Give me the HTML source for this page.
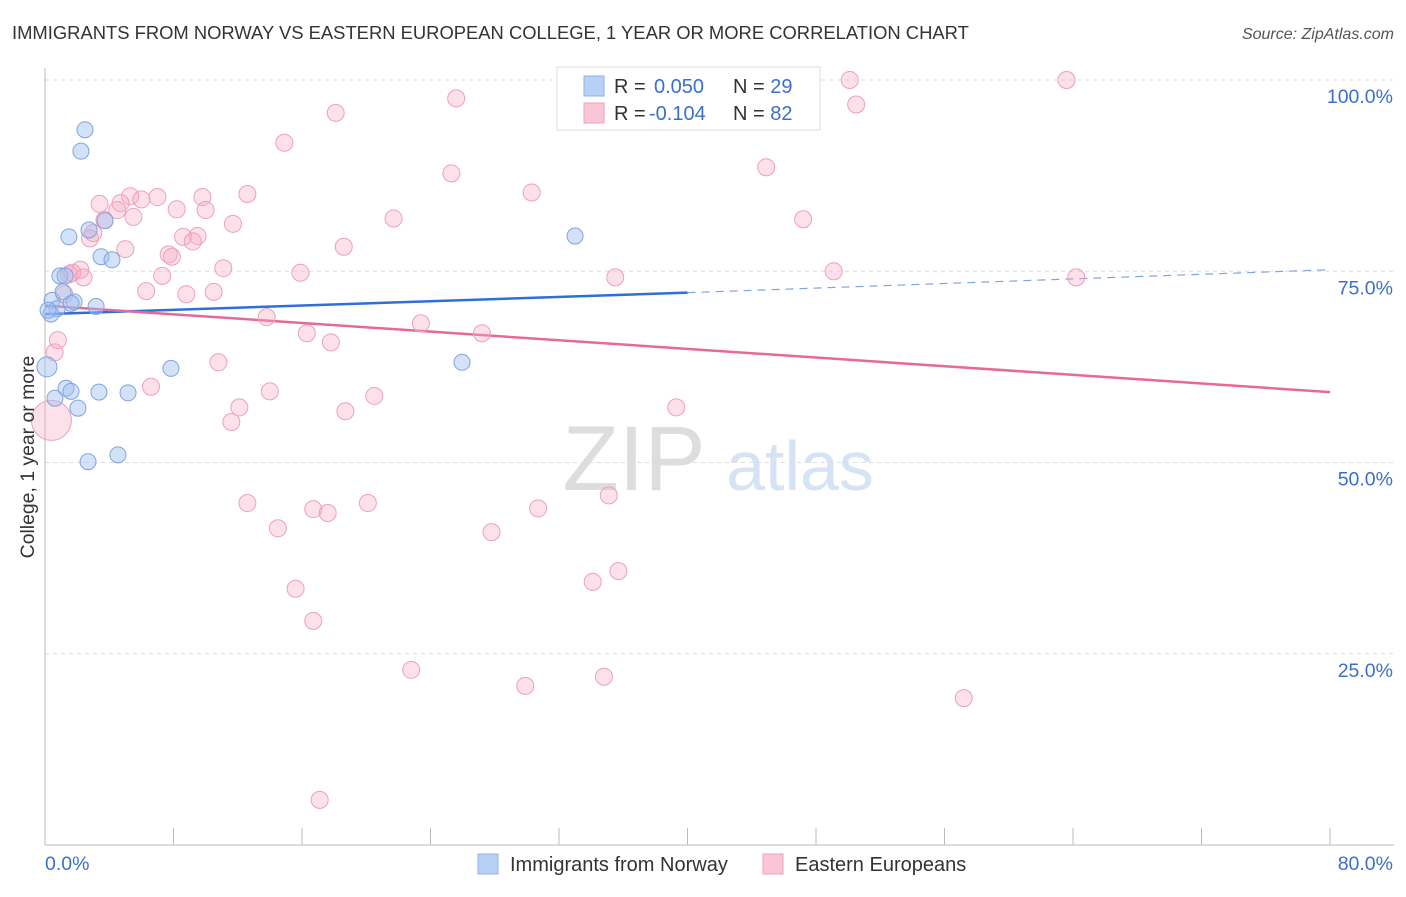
<!DOCTYPE html>
<html><head><meta charset="utf-8">
<style>
body{margin:0;background:#fff;font-family:"Liberation Sans",sans-serif;}
svg text{font-family:"Liberation Sans",sans-serif;}
</style></head>
<body>
<svg id="chart" width="1406" height="892" viewBox="0 0 1406 892">
<text x="12" y="39" font-size="18.4" fill="#333">IMMIGRANTS FROM NORWAY VS EASTERN EUROPEAN COLLEGE, 1 YEAR OR MORE CORRELATION CHART</text>
<text x="1394" y="39" font-size="16" fill="#555" font-style="italic" text-anchor="end">Source: ZipAtlas.com</text>
<text x="634" y="490" font-size="92" fill="#ddd" font-family="Liberation Serif" text-anchor="middle">ZIP</text>
<text x="800" y="490" font-size="70" fill="#d6e3f5" text-anchor="middle">atlas</text>
<g id="grid"></g>
<g id="axes"></g>
<g id="lines"></g>
<g id="points"></g>
<text transform="translate(34,457) rotate(-90)" font-size="19.4" fill="#333" text-anchor="middle">College, 1 year or more</text>
<g>
<rect x="557" y="67" width="263" height="63" fill="#fff" stroke="#ddd"/>
<rect x="584" y="76" width="20" height="20" fill="#b8d0f5" stroke="#8fb0e6"/>
<rect x="584" y="103" width="20" height="20" fill="#f9c6d6" stroke="#eea0bb"/>
<text x="614" y="93" font-size="20" fill="#333">R = <tspan x="654" fill="#3a6fd0">0.050</tspan><tspan x="733">N = </tspan><tspan fill="#3a6fd0">29</tspan></text>
<text x="614" y="120" font-size="20" fill="#333">R = <tspan x="649" fill="#3a6fd0">-0.104</tspan><tspan x="733">N = </tspan><tspan fill="#3a6fd0">82</tspan></text>
</g>
<g>
<rect x="478" y="854" width="20" height="20" fill="#b8d0f5" stroke="#8fb0e6"/>
<text x="510" y="871" font-size="20" fill="#333">Immigrants from Norway</text>
<rect x="763" y="854" width="20" height="20" fill="#f9c6d6" stroke="#eea0bb"/>
<text x="795" y="871" font-size="20" fill="#333">Eastern Europeans</text>
</g>
</svg>
<script>
const yTicks=[25,50,75,100];
const yTickLabels=["25.0%","50.0%","75.0%","100.0%"];
const xEndLabels=["0.0%","80.0%"];
const norwayX=[2.49,2.24,1.49,33.0,2.74,3.49,4.17,3.74,0.93,1.25,0.44,0.75,0.37,1.81,3.18,1.62,1.12,0.12,0.62,1.31,1.62,3.36,5.17,2.05,7.84,25.96,2.68,4.54,0.19];
const norwayY=[93.5,90.7,79.5,79.6,80.4,76.9,76.5,81.6,74.4,74.4,71.2,70.1,69.4,71.0,70.4,70.8,72.3,62.5,58.4,59.7,59.3,59.2,59.1,57.1,62.3,63.1,50.1,51.0,69.9];
const easternX=[18.1,25.6,50.1,63.6,50.5,14.9,25.3,44.9,30.3,12.6,5.3,7.0,9.8,6.0,4.7,3.4,4.5,8.2,10.0,5.5,3.7,11.7,21.7,47.2,3.0,2.8,8.6,9.5,9.2,18.6,5.0,7.7,7.9,11.1,2.2,1.7,1.5,15.9,49.1,35.5,64.2,7.3,2.4,6.3,10.5,8.8,1.2,13.8,23.4,16.3,27.2,17.8,0.8,0.6,10.8,6.6,14.0,20.5,39.3,18.7,12.1,11.6,0.4,12.6,20.1,35.1,16.7,17.6,30.7,14.5,27.8,34.1,35.7,15.6,16.7,22.8,34.8,29.9,57.2,17.1];
const easternY=[95.7,97.6,100,100,96.8,91.8,87.8,88.6,85.3,85.1,84.8,84.7,84.7,84.4,83.9,83.8,83.0,83.1,83.0,82.1,81.7,81.2,81.9,81.8,80.0,79.3,79.5,79.6,78.9,78.2,77.9,77.2,76.9,75.4,75.2,74.8,74.6,74.8,75.0,74.2,74.2,74.4,74.2,72.4,72.3,72.0,72.0,69.0,68.2,66.9,66.9,65.7,66.0,64.4,63.1,59.9,59.3,58.7,57.2,56.7,57.2,55.3,55.5,44.7,44.7,45.7,43.9,43.4,44.0,41.4,40.9,34.4,35.8,33.5,29.3,22.9,22.0,20.8,19.2,5.9];
const norwayTrend=[69.4,72.2,75.2]; // at x=0,40,80
const easternTrend=[70.5,59.2]; // at x=0,80
const X=v=>45+v/80*1285, Y=v=>845-v/100*765;
const NS="http://www.w3.org/2000/svg";
function mk(tag,attrs,parent){const e=document.createElementNS(NS,tag);for(const k in attrs)e.setAttribute(k,attrs[k]);parent.appendChild(e);return e;}
const grid=document.getElementById('grid'),axes=document.getElementById('axes'),lines=document.getElementById('lines'),pts=document.getElementById('points');
yTicks.forEach((t,i)=>{
 const l=mk('line',{x1:45,x2:1394,y1:Y(t),y2:Y(t),stroke:'#ddd','stroke-dasharray':'4,4'},grid);
 
 
 const tx=mk('text',{x:1393,y:Y(t)+23,'font-size':19.5,fill:'#3a6fd0','text-anchor':'end'},axes);
 tx.textContent=yTickLabels[i];
 
 
});
const xa=mk('line',{x1:45,x2:1394,y1:845,y2:845,stroke:'#bbb'},axes);


const ya=mk('line',{x1:45,x2:45,y1:68,y2:845,stroke:'#bbb'},axes);


for(let i=0;i<=10;i++){
 const tk=mk('line',{x1:X(i*8),x2:X(i*8),y1:828,y2:845,stroke:'#bbb'},axes);
 
 
}
const xl0=mk('text',{x:45,y:870,'font-size':19.5,fill:'#3a6fd0'},axes);xl0.textContent=xEndLabels[0];


const xl1=mk('text',{x:1393,y:870,'font-size':19.5,fill:'#3a6fd0','text-anchor':'end'},axes);xl1.textContent=xEndLabels[1];


easternX.forEach((x,i)=>{
 const big=(x<1&&easternY[i]<56&&easternY[i]>54);
 const c=mk('circle',{cx:X(x),cy:Y(easternY[i]),r:big?20:8.5,fill:'rgba(245,170,195,0.35)',stroke:'#eea0bb','stroke-width':1},pts);
 
 
});
norwayX.forEach((x,i)=>{
 const big=(x<0.15);
 const c=mk('circle',{cx:X(x),cy:Y(norwayY[i]),r:big?10:8,fill:'rgba(160,190,240,0.45)',stroke:'#7fa4e0','stroke-width':1},pts);
 
 
});
const bl=mk('line',{x1:X(0),y1:Y(norwayTrend[0]),x2:X(40),y2:Y(norwayTrend[1]),stroke:'#2f6fd6','stroke-width':2.5},lines);


const bd=mk('line',{x1:X(40),y1:Y(norwayTrend[1]),x2:X(80),y2:Y(norwayTrend[2]),stroke:'#7fa4e0','stroke-width':1.2,'stroke-dasharray':'8,6'},lines);


const pl=mk('line',{x1:X(0),y1:Y(easternTrend[0]),x2:X(80),y2:Y(easternTrend[1]),stroke:'#e8689a','stroke-width':2.5},lines);


</script>
</body></html>
